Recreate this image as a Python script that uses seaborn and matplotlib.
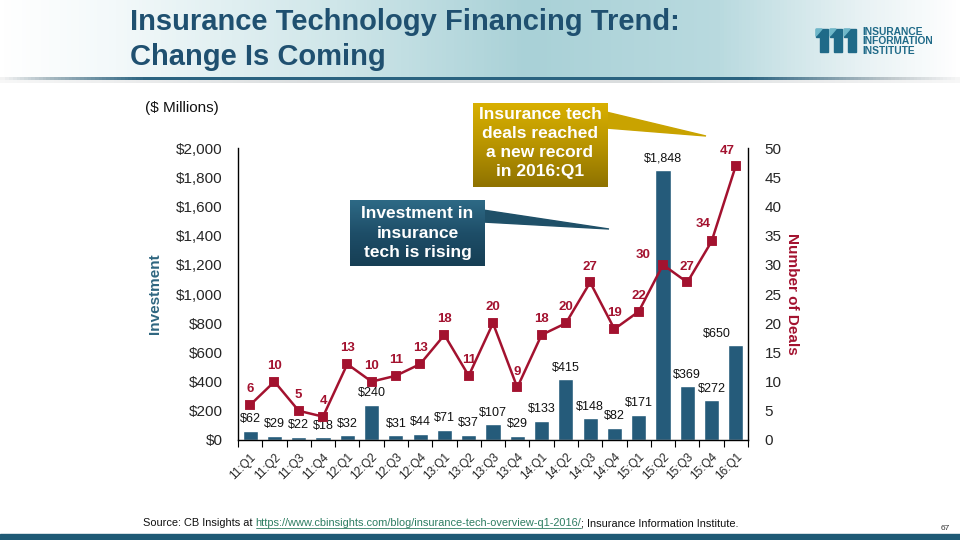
import numpy as np
import pandas as pd
import matplotlib
matplotlib.use("Agg")
import matplotlib.pyplot as plt
from matplotlib.patches import Polygon, Rectangle
from matplotlib.colors import LinearSegmentedColormap
import seaborn as sns

# ---------------- data ----------------
quarters = ["11:Q1", "11:Q2", "11:Q3", "11:Q4", "12:Q1", "12:Q2", "12:Q3", "12:Q4",
            "13:Q1", "13:Q2", "13:Q3", "13:Q4", "14:Q1", "14:Q2", "14:Q3", "14:Q4",
            "15:Q1", "15:Q2", "15:Q3", "15:Q4", "16:Q1"]
investment = [62, 29, 22, 18, 32, 240, 31, 44, 71, 37, 107, 29, 133, 415, 148, 82,
              171, 1848, 369, 272, 650]
deals = [6, 10, 5, 4, 13, 10, 11, 13, 18, 11, 20, 9, 18, 20, 27, 19, 22, 30, 27, 34, 47]
left_ticks = [0, 200, 400, 600, 800, 1000, 1200, 1400, 1600, 1800, 2000]
right_ticks = [0, 5, 10, 15, 20, 25, 30, 35, 40, 45, 50]

df = pd.DataFrame({"quarter": quarters, "investment": investment, "deals": deals})

BAR = "#255B7A"
RED = "#A3122F"
TEAL = "#1F5070"
FONT = "Liberation Sans"

sns.set_theme(style="white")
plt.rcParams["font.family"] = [FONT, "DejaVu Sans"]

W, H = 960, 540
fig = plt.figure(figsize=(9.6, 5.4), dpi=100)

# ---------------- background decoration (pixel coords) ----------------
bg = fig.add_axes([0, 0, 1, 1], zorder=0)
bg.set_xlim(0, W)
bg.set_ylim(H, 0)
bg.axis("off")
hdr = LinearSegmentedColormap.from_list(
    "hdr", [(0, "#FFFFFF"), (0.12, "#F3F9FA"), (0.35, "#CFE6E9"), (0.55, "#A9D1D7"),
            (0.75, "#B9DADF"), (0.9, "#E8F2F4"), (1, "#FFFFFF")])
grad = np.linspace(0, 1, 256)[None, :]
bg.imshow(grad, cmap=hdr, extent=[0, W, 77, 0], aspect="auto", zorder=0)
line_cm = LinearSegmentedColormap.from_list(
    "ln", [(0, "#F2F2F2"), (0.05, "#A7B9C1"), (0.15, "#2A6380"), (0.78, "#2A6380"),
           (0.93, "#BFC8CC"), (1, "#F5F5F5")])
bg.imshow(grad, cmap=line_cm, extent=[0, W, 80, 77], aspect="auto", zorder=1)
shadow = LinearSegmentedColormap.from_list("sh", ["#F7F7F7", "#DADDDE", "#DADDDE", "#F7F7F7"])
bg.imshow(grad, cmap=shadow, extent=[0, W, 83, 80], aspect="auto", zorder=1)
bg.add_patch(Rectangle((0, 534), W, 6, color="#1F5A75", zorder=1))

# logo
for i in range(3):
    x0 = 816 + i * 14
    bg.add_patch(Polygon([[x0, 29], [x0 + 12, 29], [x0 + 12, 52], [x0 + 4, 52], [x0 + 4, 37], [x0, 37]],
                         closed=True, color="#1F6A88", zorder=2))
    bg.add_patch(Polygon([[x0, 29], [x0 + 6, 29], [x0, 36]], closed=True, color="#6FB7C9", zorder=3))
bg.text(862, 32, "INSURANCE", fontsize=7.4, fontweight="bold", color="#1F6A88", va="center", ha="left")
bg.text(862, 41.5, "INFORMATION", fontsize=7.4, fontweight="bold", color="#1F6A88", va="center", ha="left")
bg.text(862, 51, "INSTITUTE", fontsize=7.4, fontweight="bold", color="#1F6A88", va="center", ha="left")

# title
bg.text(130, 22, "Insurance Technology Financing Trend:", fontsize=21, fontweight="bold",
        color=TEAL, va="center", ha="left")
bg.text(130, 57, "Change Is Coming", fontsize=21, fontweight="bold",
        color=TEAL, va="center", ha="left")
bg.text(145, 108, "($ Millions)", fontsize=11, color="#111111", va="center", ha="left")

# ---------------- main chart ----------------
ax = fig.add_axes([238 / W, 1 - 440 / H, 510 / W, 292 / H], zorder=2)
ax.patch.set_alpha(0)
sns.barplot(data=df, x="quarter", y="investment", color=BAR, width=0.62,
            saturation=1, ax=ax, zorder=2)
ax.set_ylim(0, 2000)
ax.set_xlim(-0.5, len(quarters) - 0.5)
ax.set_yticks(left_ticks)
ax.set_yticklabels([f"${v:,}" for v in left_ticks], fontsize=11)
ax.set_yticks([400, 1200, 2000], minor=True)
ax.tick_params(axis="y", which="major", length=0, pad=11)
ax.tick_params(axis="y", which="minor", length=5, width=1, color="black", direction="out", left=True)
ax.set_xticks(range(len(quarters)))
ax.set_xticklabels(quarters, rotation=45, ha="right", rotation_mode="anchor", fontsize=8.5)
ax.set_xticks(np.arange(-0.5, len(quarters), 1), minor=True)
ax.tick_params(axis="x", which="major", length=0, pad=8)
ax.tick_params(axis="x", which="minor", length=5, width=0.8, color="black", direction="out", bottom=True)
ax.set_xlabel("")
ax.set_ylabel("Investment", fontsize=11, fontweight="bold", color="#2F6680", labelpad=6)
ax.yaxis.set_label_coords(-0.15, 0.5)
for s in ["top", "right"]:
    ax.spines[s].set_visible(False)
for s in ["left", "bottom"]:
    ax.spines[s].set_color("black")
    ax.spines[s].set_linewidth(1)

for i, v in enumerate(investment):
    dx = -14 if i == len(quarters) - 1 else 0
    ax.annotate(f"${v:,}", (i, v), xytext=(dx, 4), textcoords="offset points",
                ha="center", va="bottom", fontsize=9, color="#111111", zorder=4)

# deals on right axis
ax2 = ax.twinx()
sns.pointplot(data=df, x="quarter", y="deals", color=RED, markers="s", markersize=6,
              linewidth=1.8, errorbar=None, ax=ax2, zorder=3)
ax2.set_ylim(0, 50)
ax2.set_xlim(-0.5, len(quarters) - 0.5)
ax2.set_yticks(right_ticks)
ax2.set_yticklabels([str(v) for v in right_ticks], fontsize=11)
ax2.set_yticks([10, 30, 50], minor=True)
ax2.tick_params(axis="y", which="major", length=0, pad=12, right=True, labelright=True)
ax2.tick_params(axis="y", which="minor", length=5, width=1, color="black", direction="in", right=True)
ax2.set_ylabel("Number of Deals", fontsize=11, fontweight="bold", color=RED, rotation=270, labelpad=14)
ax2.yaxis.set_label_coords(1.1, 0.5)
for s in ["top", "left", "bottom"]:
    ax2.spines[s].set_visible(False)
ax2.spines["right"].set_color("black")
ax2.spines["right"].set_linewidth(1)
ax2.set_xlabel("")

offsets = {17: (-14, 3), 19: (-6, 8), 20: (-6, 6)}
for i, v in enumerate(deals):
    dx, dy = offsets.get(i, (0, 7))
    ax2.annotate(str(v), (i, v), xytext=(dx, dy), textcoords="offset points",
                 ha="center", va="bottom", fontsize=9.5, fontweight="bold", color=RED, zorder=5)

# ---------------- callouts (overlay, pixel coords) ----------------
ov = fig.add_axes([0, 0, 1, 1], zorder=5)
ov.set_xlim(0, W)
ov.set_ylim(H, 0)
ov.axis("off")
ov.patch.set_alpha(0)
vgrad = np.linspace(0, 1, 256)[:, None]
gold = LinearSegmentedColormap.from_list("gold", ["#D9B000", "#B89400", "#8E7200"])
ov.add_patch(Polygon([[606, 112], [706, 136], [606, 128]], closed=True, color="#C9A300", zorder=1))
ov.imshow(vgrad, cmap=gold, extent=[473, 608, 187, 103], aspect="auto", zorder=2)
ov.text(540, 143, "Insurance tech\ndeals reached\na new record\nin 2016:Q1", fontsize=12.5,
        fontweight="bold", color="white", ha="center", va="center", linespacing=1.36, zorder=3)
blue = LinearSegmentedColormap.from_list("blue", ["#2E6A86", "#1E4E68", "#163E54"])
ov.add_patch(Polygon([[483, 210], [609, 229], [483, 222]], closed=True, color="#1F5068", zorder=1))
ov.imshow(vgrad, cmap=blue, extent=[350, 485, 266, 200], aspect="auto", zorder=2)
ov.text(417.5, 233, "Investment in\ninsurance\ntech is rising", fontsize=12.5,
        fontweight="bold", color="white", ha="center", va="center", linespacing=1.36, zorder=3)

# ---------------- source line ----------------
r = fig.canvas.get_renderer()
t1 = ov.text(143, 523, "Source: CB Insights at ", fontsize=7.9, color="#111111", ha="left", va="center")
bb = t1.get_window_extent(renderer=r)
t2 = fig.text(bb.x1 / W, 1 - 523 / H, "https://www.cbinsights.com/blog/insurance-tech-overview-q1-2016/",
              fontsize=7.9, color="#2E7D62", ha="left", va="center", zorder=6)
bb2 = t2.get_window_extent(renderer=r)
fig.add_artist(plt.Line2D([bb2.x0 / W, bb2.x1 / W], [(bb2.y0 + 0.5) / H] * 2,
                          color="#2E7D62", linewidth=0.6))
fig.text(bb2.x1 / W, 1 - 523 / H, "; Insurance Information Institute.", fontsize=7.9,
         color="#111111", ha="left", va="center", zorder=6)
ov.text(945, 528, "67", fontsize=6, color="#333333", ha="center", va="center")

fig.savefig("out.png", dpi=100)
